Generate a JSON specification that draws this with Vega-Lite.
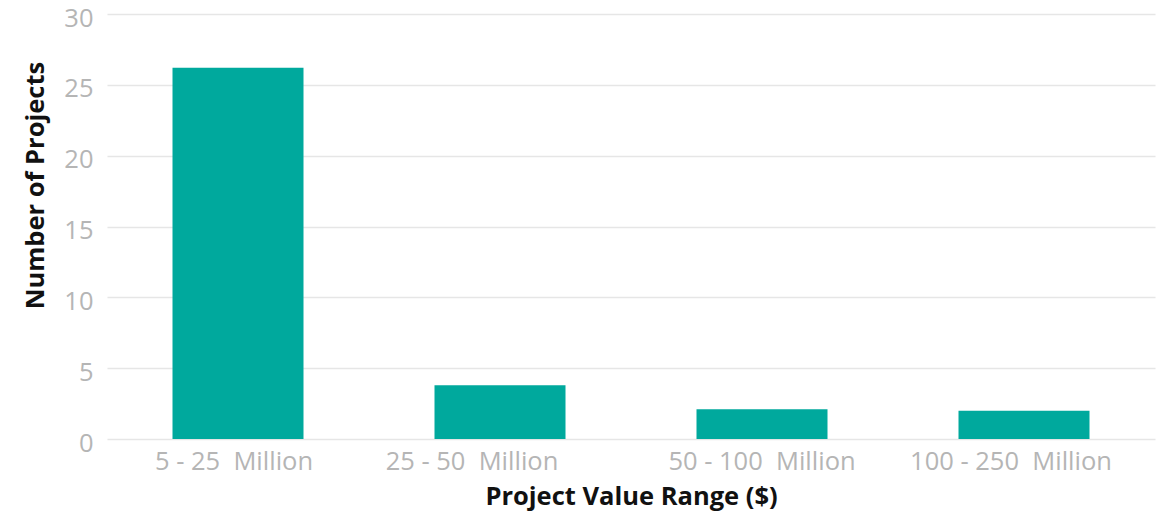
{
  "$schema": "https://vega.github.io/schema/vega-lite/v6.json",
  "width": 1048,
  "height": 425,
  "autosize": "none",
  "padding": {"left": 107, "top": 14, "right": 9, "bottom": 74},
  "background": "white",
  "config": {"view": {"stroke": null}, "font": "Open Sans"},
  "data": {"values": [
    {"range": "5 - 25\u00a0\u00a0Million", "count": 26.2},
    {"range": "25 - 50\u00a0\u00a0Million", "count": 3.8},
    {"range": "50 - 100\u00a0\u00a0Million", "count": 2.1},
    {"range": "100 - 250\u00a0\u00a0Million", "count": 2.0}
  ]},
  "mark": {"type": "bar", "color": "#00a99d"},
  "encoding": {
    "x": {
      "field": "range", "type": "nominal", "sort": null,
      "scale": {"paddingInner": 0.5, "paddingOuter": 0.25},
      "axis": {
        "title": "Project Value Range ($)", "labelAngle": 0, "domain": false, "ticks": false, "labelLimit": 0,
        "labelOffset": {"condition": [
          {"test": "datum.value === '5 - 25\u00a0\u00a0Million'", "value": -4},
          {"test": "datum.value === '25 - 50\u00a0\u00a0Million'", "value": -28},
          {"test": "datum.value === '100 - 250\u00a0\u00a0Million'", "value": -13}
        ], "value": 0},
        "labelFont": "Open Sans", "labelFontSize": 25.5, "labelColor": "#b5b5b5", "labelPadding": 10,
        "titleFont": "Open Sans", "titleFontSize": 25.5, "titleFontWeight": "bold", "titleColor": "#111111", "titlePadding": 10
      }
    },
    "y": {
      "field": "count", "type": "quantitative",
      "scale": {"domain": [0, 30]},
      "axis": {
        "title": "Number of Projects", "values": [0, 5, 10, 15, 20, 25, 30], "domain": false, "ticks": false,
        "gridColor": "#e6e6e6", "gridWidth": 1.5,
        "labelFont": "Open Sans", "labelFontSize": 25.5, "labelColor": "#b5b5b5", "labelPadding": 14, "labelOffset": 4,
        "titleFont": "Open Sans", "titleFontSize": 25.5, "titleFontWeight": "bold", "titleColor": "#111111",
        "titleX": -72, "titleY": 171, "titleAlign": "center", "titleBaseline": "middle", "titleAngle": -90
      }
    }
  }
}
